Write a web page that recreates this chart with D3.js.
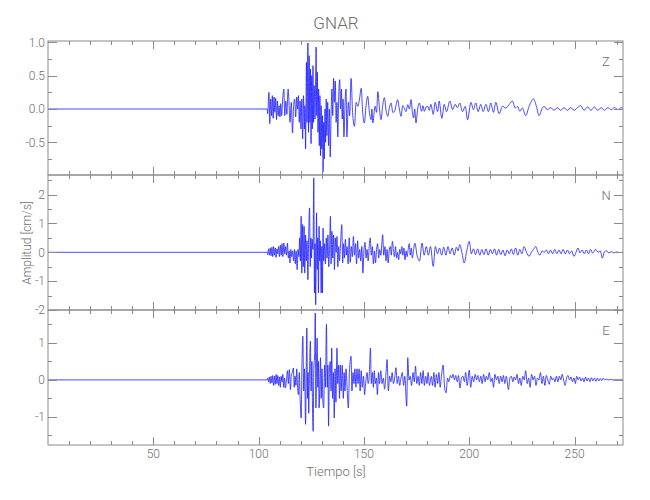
<!DOCTYPE html>
<html><head><meta charset="utf-8">
<script src="https://cdn.jsdelivr.net/npm/d3@7"></script>
<style>
body{margin:0;background:#fff}
text{font-family:Roboto,'Liberation Sans',sans-serif;fill:#6e6e6e;font-weight:300}
</style>
</head><body>
<svg id="c" width="650" height="500"></svg>
<script>
const title = "GNAR";
const xLabel = "Tiempo [s]";
const yLabel = "Amplitud [cm/s]";
const xTicks = [50, 100, 150, 200, 250];
const zTicks = [1.0, 0.5, 0.0, -0.5];
const nTicks = [2, 1, 0, -1, -2];
const eTicks = [1, 0, -1];
const channels = ["Z", "N", "E"];

// Vertical (Z) velocity trace, [time s, amplitude cm/s]
const zTrace = [[0,0],[104.0,0],[104.3,-0.07],[104.9,0.25],[105.3,-0.22],[105.7,0.15],[106.1,-0.1],[106.5,0.2],[106.9,-0.14],[107.3,0.18],[107.7,-0.05],[108.1,0.16],[108.5,-0.16],[108.9,0.12],[109.3,-0.1],[109.7,0.05],[110.1,-0.12],[110.5,0.08],[110.9,-0.1],[111.5,0.18],[112.0,0.3],[112.4,-0.1],[112.9,0.12],[113.4,-0.08],[114.0,0.3],[114.5,0.05],[114.9,-0.2],[115.5,0.1],[116.1,-0.36],[116.6,0.05],[117.1,0.15],[117.6,-0.12],[118.1,0.18],[118.5,0.0],[118.9,0.2],[119.3,-0.2],[119.7,0.12],[120.1,-0.3],[120.5,0.15],[120.9,-0.45],[121.3,0.2],[121.7,-0.3],[122.0,0.05],[122.3,-0.6],[122.7,0.7],[123.0,-0.2],[123.4,0.99],[123.7,-0.35],[124.0,0.8],[124.3,-0.2],[124.6,0.6],[124.9,-0.52],[125.2,0.5],[125.5,-0.3],[125.8,0.65],[126.1,-0.2],[126.4,0.35],[126.8,-0.15],[127.3,0.93],[127.6,-0.1],[127.9,0.55],[128.2,-0.35],[128.5,0.3],[128.8,-0.55],[129.1,0.2],[129.4,-0.7],[129.7,0.05],[130.0,-0.6],[130.3,-0.1],[130.6,-0.94],[130.9,-0.2],[131.2,-0.75],[131.5,0.0],[131.8,-0.5],[132.1,0.15],[132.4,-0.4],[132.8,0.1],[133.2,-0.55],[133.6,0.0],[134.0,-0.72],[134.4,-0.1],[134.8,0.3],[135.2,-0.1],[135.6,0.46],[136.0,0.1],[136.4,0.42],[136.8,-0.2],[137.2,0.1],[137.6,-0.42],[138.0,0.15],[138.5,0.44],[138.9,0.0],[139.3,0.3],[139.7,-0.15],[140.1,0.15],[140.5,-0.42],[141.0,0.05],[141.5,0.3],[141.9,-0.42],[142.6,0.1],[143.2,-0.1],[143.9,0.46],[144.6,-0.05],[145.5,-0.26],[146.3,0.1],[147.1,0.04],[147.9,0.15],[148.7,0.31],[149.4,-0.05],[150.2,-0.21],[151.0,0.05],[151.8,0.19],[152.6,-0.05],[153.4,-0.16],[153.8,0.0],[154.2,-0.21],[155.3,0.04],[156.0,-0.05],[156.6,0.26],[157.4,0.0],[158.1,-0.16],[158.9,0.05],[159.7,0.17],[160.5,-0.02],[161.3,-0.11],[162.1,0.02],[162.9,0.09],[163.7,-0.05],[164.5,-0.04],[165.2,0.05],[166.0,0.14],[166.8,0.0],[167.6,-0.11],[168.4,0.05],[169.2,0.01],[170.0,-0.04],[170.8,0.065],[171.6,0.0],[172.4,0.14],[173.0,-0.05],[173.6,-0.135],[174.1,0.0],[174.7,-0.21],[175.5,0.0],[176.3,0.09],[177.4,-0.035],[178.0,0.05],[178.7,-0.035],[179.5,0.03],[180.3,0.04],[181.0,-0.02],[181.8,0.07],[182.9,-0.08],[183.8,0.1],[185.0,-0.04],[185.7,0.12],[187.0,-0.14],[188.1,0.07],[189.2,-0.04],[190.8,0.12],[192.1,-0.01],[193.3,0.07],[194.4,0.02],[195.5,0.09],[196.8,-0.04],[198.1,0.04],[199.2,-0.16],[200.8,0.1],[202.0,-0.01],[203.1,0.09],[204.2,-0.04],[205.5,0.07],[206.6,-0.04],[207.9,0.07],[209.1,-0.04],[210.2,0.09],[211.5,-0.05],[212.6,0.1],[214.2,-0.07],[215.8,0.04],[217.3,0.015],[218.9,0.065],[220.5,0.12],[221.8,0.015],[222.9,0.04],[224.0,-0.035],[225.2,0.015],[226.8,-0.1],[228.4,0.04],[230.5,0.15],[231.9,0.04],[233.1,-0.1],[234.7,0.015],[235.5,0.04],[237.1,-0.01],[238.7,0.02],[240.3,-0.02],[241.8,0.02],[243.4,-0.02],[245.0,0.02],[246.6,-0.02],[248.2,0.02],[249.8,-0.02],[251.4,0.02],[252.9,0.05],[254.5,-0.02],[256.2,0.03],[257.8,-0.02],[259.4,0.03],[261.0,-0.02],[262.6,0.02],[264.2,-0.02],[265.8,0.02],[267.4,-0.01],[269.0,0.02],[270.6,-0.01],[272.2,0.02],[273.0,0.01]];

// North (N) velocity trace
const nTrace = [[0,0],[104.0,0],[104.3,-0.08],[104.7,0.12],[105.1,-0.1],[105.5,0.15],[105.9,-0.12],[106.3,0.18],[106.7,-0.15],[107.1,0.2],[107.5,-0.1],[107.9,0.15],[108.3,-0.18],[108.7,0.12],[109.1,-0.05],[109.5,0.2],[109.9,-0.15],[110.3,0.25],[110.7,-0.1],[111.1,0.3],[111.5,-0.15],[112.0,0.32],[112.4,-0.05],[112.8,0.2],[113.2,-0.1],[113.7,0.32],[114.1,-0.2],[114.5,0.05],[114.9,-0.37],[115.3,0.1],[115.7,-0.15],[116.1,0.05],[116.6,-0.3],[117.0,0.1],[117.4,-0.4],[117.8,0.05],[118.3,-0.6],[118.7,0.1],[119.1,-0.15],[119.5,0.5],[119.8,-0.3],[120.2,1.25],[120.5,-0.72],[120.9,0.96],[121.2,-0.5],[121.6,0.9],[121.9,-0.72],[122.3,0.6],[122.6,-0.3],[123.0,0.4],[123.4,-0.95],[123.8,0.7],[124.2,1.54],[124.5,-0.5],[124.8,0.5],[125.1,-0.2],[125.4,0.45],[125.8,0.1],[126.2,2.58],[126.5,-1.41],[126.8,0.3],[127.1,-1.82],[127.5,1.37],[127.8,-0.6],[128.1,0.5],[128.4,-1.41],[128.7,0.9],[129.0,-0.3],[129.3,0.4],[129.7,-1.41],[130.0,0.2],[130.3,-1.41],[130.6,0.84],[130.9,-0.3],[131.3,0.3],[131.7,-0.4],[132.1,0.5],[132.5,-0.2],[132.9,0.6],[133.3,-0.5],[133.7,0.2],[134.1,1.25],[134.4,-0.4],[134.8,0.73],[135.2,-0.2],[135.6,0.6],[136.0,-0.6],[136.4,0.5],[136.8,0.0],[137.2,0.55],[137.6,-0.5],[138.0,0.2],[138.4,-0.3],[138.9,0.3],[139.5,0.96],[139.9,-0.37],[140.3,0.3],[140.7,-0.2],[141.2,0.45],[141.6,-0.1],[142.0,0.2],[142.5,-0.4],[143.0,0.5],[143.5,-0.35],[144.0,0.2],[144.5,-0.15],[145.0,0.55],[145.5,-0.1],[146.0,0.3],[146.5,-0.4],[147.0,0.4],[147.5,-0.2],[148.0,0.1],[148.5,-0.3],[149.0,0.2],[149.5,-0.72],[150.0,0.05],[150.5,0.35],[151.0,-0.2],[151.5,0.1],[152.0,-0.3],[152.5,0.2],[153.0,0.5],[153.5,-0.1],[154.0,0.2],[154.5,-0.4],[155.0,0.05],[155.5,-0.37],[156.0,0.1],[156.5,0.3],[157.0,-0.2],[157.5,0.1],[158.0,-0.1],[158.9,0.61],[159.4,-0.1],[160.0,0.2],[160.5,-0.3],[161.0,0.1],[161.5,-0.37],[162.0,0.05],[162.5,0.2],[163.0,-0.1],[163.5,0.38],[164.0,0.1],[164.5,-0.15],[165.0,0.2],[165.5,-0.2],[166.0,0.0],[166.5,-0.26],[167.0,0.1],[167.5,-0.05],[168.0,0.2],[168.5,-0.1],[169.0,0.15],[169.5,-0.26],[170.0,0.05],[170.5,-0.15],[171.0,0.1],[171.5,0.3],[172.0,-0.1],[172.5,0.15],[173.0,-0.2],[173.5,0.05],[174.2,0.32],[175.2,-0.1],[176.4,-0.3],[177.6,0.32],[178.6,-0.1],[179.6,0.2],[180.6,-0.1],[181.6,0.2],[182.9,-0.49],[183.9,0.2],[184.9,-0.05],[185.9,0.15],[186.9,-0.1],[187.9,0.18],[188.9,-0.1],[189.9,0.2],[190.9,-0.05],[191.9,0.15],[192.9,-0.1],[193.9,0.18],[194.7,0.05],[195.5,0.27],[196.5,0.0],[197.6,-0.37],[198.8,0.05],[200.0,0.38],[201.0,-0.05],[202.0,0.12],[203.0,-0.08],[204.0,0.12],[205.0,-0.1],[206.0,0.1],[207.0,-0.08],[208.0,0.12],[209.0,-0.1],[210.0,0.1],[211.0,-0.05],[212.0,0.12],[213.0,-0.1],[214.0,0.1],[215.0,-0.08],[216.0,0.08],[217.0,-0.12],[218.0,0.08],[219.0,-0.05],[220.0,0.12],[221.0,-0.08],[222.0,0.15],[223.0,-0.1],[224.0,0.1],[225.0,-0.05],[226.0,0.2],[227.2,0.0],[228.4,-0.14],[229.5,0.0],[230.5,0.1],[231.6,0.2],[232.6,0.0],[233.6,-0.1],[234.6,0.05],[235.6,0.0],[236.6,0.08],[237.6,-0.05],[238.6,0.08],[239.6,-0.05],[240.6,0.1],[241.6,-0.05],[242.6,0.08],[243.6,-0.05],[244.6,0.1],[245.6,-0.05],[246.6,0.08],[247.6,-0.05],[248.6,0.05],[249.7,-0.14],[250.7,0.0],[251.6,0.15],[252.6,-0.02],[253.6,0.08],[254.6,-0.05],[255.6,0.08],[256.6,-0.05],[257.6,0.1],[258.6,-0.03],[260.0,0.1],[261.2,0.0],[262.2,0.05],[263.2,-0.2],[264.2,0.02],[265.2,0.05],[266.2,-0.02],[267.4,0.02],[268.6,-0.02],[270.0,0.01],[271.5,-0.01],[273.0,0.0]];

// East (E) velocity trace
const eTrace = [[0,0],[104.0,0],[104.3,0.05],[104.7,-0.05],[105.1,0.08],[105.5,-0.1],[105.9,0.1],[106.3,-0.08],[106.7,0.12],[107.1,-0.15],[107.5,0.1],[107.9,-0.12],[108.3,0.15],[108.7,-0.1],[109.1,0.12],[109.5,-0.15],[109.9,0.08],[110.3,-0.2],[110.7,0.1],[111.1,-0.05],[111.5,0.15],[111.9,-0.2],[112.3,0.05],[112.7,-0.22],[113.2,0.0],[113.7,0.25],[114.1,-0.1],[114.6,0.28],[115.1,-0.26],[115.5,0.1],[116.0,0.2],[116.5,0.32],[116.9,-0.2],[117.3,0.1],[117.7,-0.15],[118.1,0.3],[118.5,-0.2],[118.9,-0.4],[119.3,0.2],[119.7,-0.5],[120.2,-1.03],[120.6,0.5],[121.0,1.18],[121.4,-0.3],[121.8,0.3],[122.3,-1.2],[122.6,0.2],[122.9,1.4],[123.2,-0.5],[123.5,0.2],[123.8,-0.9],[124.1,0.1],[124.6,1.05],[124.9,-0.3],[125.3,0.5],[125.6,-0.8],[125.9,-1.39],[126.2,0.3],[126.6,0.7],[126.9,1.81],[127.2,-0.76],[127.5,0.5],[127.8,1.13],[128.1,-0.2],[128.4,0.5],[128.7,-0.76],[129.0,-0.3],[129.4,0.6],[129.7,-0.5],[130.1,0.3],[130.5,-0.6],[130.9,-0.76],[131.3,0.4],[131.7,-0.2],[132.2,1.5],[132.6,-0.2],[132.9,0.4],[133.2,-1.25],[133.6,0.2],[134.0,0.5],[134.4,-0.3],[134.7,0.86],[135.1,-0.5],[135.5,0.2],[135.9,-1.03],[136.3,0.3],[136.7,-0.6],[137.2,0.86],[137.6,-0.1],[138.0,0.4],[138.4,-0.5],[138.8,0.4],[139.2,-0.3],[139.7,0.4],[140.2,-0.5],[140.6,0.2],[141.0,-0.3],[141.5,0.3],[142.0,-0.2],[142.6,-0.76],[143.1,0.2],[143.9,0.64],[144.3,-0.3],[144.8,0.2],[145.3,-0.1],[145.7,0.3],[146.2,-0.2],[146.7,0.3],[147.2,-0.1],[147.7,0.3],[148.2,-0.3],[148.7,0.25],[149.2,-0.2],[149.8,0.1],[150.3,-0.4],[150.8,-0.1],[151.5,0.2],[152.0,-0.1],[152.5,0.1],[153.1,0.86],[153.5,-0.1],[154.0,0.2],[154.5,-0.2],[154.9,0.25],[155.4,-0.1],[155.9,0.05],[156.4,-0.4],[156.9,0.2],[157.4,-0.1],[158.0,0.25],[158.6,-0.1],[159.2,0.05],[159.8,-0.25],[160.4,0.1],[161.0,0.55],[161.6,-0.3],[162.2,0.1],[162.8,-0.05],[163.4,0.2],[164.0,-0.1],[164.6,0.05],[165.2,0.33],[165.8,-0.1],[166.4,0.1],[167.0,-0.15],[167.6,0.05],[168.2,0.2],[168.8,-0.15],[169.4,0.1],[170.3,-0.71],[170.8,0.6],[171.4,0.0],[172.0,0.1],[172.6,-0.15],[173.3,0.2],[173.9,-0.05],[174.5,0.37],[175.1,-0.1],[175.7,0.1],[176.3,-0.15],[176.9,0.2],[177.5,-0.1],[178.1,0.25],[178.7,-0.15],[179.3,0.1],[179.9,-0.1],[180.5,0.2],[181.1,-0.15],[182.0,0.1],[182.6,-0.15],[183.2,0.2],[183.8,-0.2],[184.4,0.15],[185.0,-0.1],[185.6,0.2],[186.2,-0.2],[186.8,0.1],[187.6,0.4],[188.3,-0.2],[189.0,-0.35],[189.7,0.05],[190.3,-0.05],[191.0,0.12],[191.7,0.05],[192.3,0.15],[193.0,0.0],[193.6,0.12],[194.3,-0.05],[194.9,0.12],[195.6,-0.22],[196.3,0.05],[197.0,0.1],[197.7,-0.05],[198.3,0.2],[199.0,-0.15],[200.0,0.26],[200.7,-0.2],[201.4,0.1],[202.1,-0.05],[202.8,0.15],[203.5,0.0],[204.1,0.12],[204.8,-0.05],[205.5,0.1],[206.1,-0.1],[206.8,0.15],[207.5,-0.05],[208.1,0.1],[208.8,0.0],[209.5,0.2],[210.2,-0.05],[210.9,0.05],[211.5,-0.2],[212.2,0.15],[212.9,0.0],[213.6,0.1],[214.2,-0.1],[214.9,0.1],[215.6,-0.05],[216.2,0.12],[216.9,-0.1],[217.6,0.1],[218.6,-0.26],[219.3,0.05],[220.0,0.1],[220.7,-0.05],[221.3,0.08],[222.0,0.0],[222.7,0.15],[223.4,-0.1],[224.0,0.05],[224.7,-0.15],[225.4,0.1],[226.1,0.0],[226.8,0.25],[227.5,-0.1],[228.2,0.05],[228.9,-0.2],[229.6,0.15],[230.3,0.0],[231.0,0.1],[231.7,-0.15],[232.4,0.05],[233.1,0.0],[233.8,0.2],[234.5,-0.1],[235.2,0.1],[235.9,-0.15],[236.6,0.12],[237.3,0.0],[238.0,-0.12],[238.7,0.1],[239.4,0.0],[240.0,0.05],[240.7,-0.05],[241.4,0.1],[242.1,-0.05],[242.8,0.1],[243.5,0.0],[244.1,0.15],[244.8,0.0],[245.5,-0.15],[246.2,0.05],[246.9,0.12],[247.6,0.0],[248.3,0.08],[249.0,-0.05],[249.7,0.05],[250.4,-0.1],[251.0,0.1],[251.7,0.0],[252.4,0.08],[253.1,-0.03],[253.8,0.05],[254.5,-0.05],[255.2,0.08],[255.9,-0.03],[256.6,0.05],[257.3,-0.05],[258.0,0.06],[258.7,-0.03],[259.4,0.05],[260.1,-0.04],[260.8,0.05],[261.5,-0.03],[262.2,0.04],[262.9,-0.02],[263.6,0.05],[264.3,0.0],[265.0,0.02],[266.0,0.0],[267.0,0.01],[268.0,0.0],[273.0,0.0]];

const svg = d3.select("#c");
const L = 48, R = 623;
const axisCol = "#8a8a8a";
const traceCol = "#1a1aff";
const x = d3.scaleLinear().domain([0, 273]).range([L, R]);

const panels = [
  {name: channels[0], trace: zTrace, dom: [-0.99, 1.02], top: 41, bot: 175, ticks: zTicks, minor: 0.25, fmt: d3.format(".1f")},
  {name: channels[1], trace: nTrace, dom: [-2.0, 2.68], top: 175, bot: 310, ticks: nTicks, minor: 0.5, fmt: d3.format("d")},
  {name: channels[2], trace: eTrace, dom: [-1.76, 1.89], top: 310, bot: 445, ticks: eTicks, minor: 0.5, fmt: d3.format("d")}
];
const minus = s => s.replace("\u2212", "-");

panels.forEach((p, i) => {
  const y = d3.scaleLinear().domain(p.dom).range([p.bot, p.top]);
  const g = svg.append("g");
  g.append("path")
    .datum(p.trace)
    .attr("fill", "none")
    .attr("stroke", traceCol)
    .attr("stroke-width", 0.8)
    .attr("stroke-linejoin", "round")
    .attr("d", d3.line().curve(d3.curveMonotoneX).x(d => x(d[0])).y(d => y(d[1])));
  g.append("rect").attr("x", L).attr("y", p.top).attr("width", R - L).attr("height", p.bot - p.top)
    .attr("fill", "none").attr("stroke", axisCol).attr("stroke-width", 1);
  d3.range(10, 273, 10).forEach(t => {
    const len = (t % 50 === 0) ? 8 : 4;
    const xx = Math.round(x(t)) + 0.5;
    g.append("line").attr("x1", xx).attr("x2", xx).attr("y1", p.top).attr("y2", p.top + len).attr("stroke", axisCol);
    g.append("line").attr("x1", xx).attr("x2", xx).attr("y1", p.bot).attr("y2", p.bot - len).attr("stroke", axisCol);
  });
  const start = Math.ceil((p.dom[0] - 1e-9) / p.minor) * p.minor;
  for (let v = start; v <= p.dom[1] + 1e-9; v += p.minor) {
    const vv = Math.round(v * 1000) / 1000;
    const isMajor = p.ticks.some(t => Math.abs(t - vv) < 1e-6);
    const len = isMajor ? 9 : 4;
    const yy = Math.round(y(vv)) + 0.5;
    g.append("line").attr("x1", L).attr("x2", L + len).attr("y1", yy).attr("y2", yy).attr("stroke", axisCol);
    g.append("line").attr("x1", R).attr("x2", R - len).attr("y1", yy).attr("y2", yy).attr("stroke", axisCol);
  }
  p.ticks.forEach(t => {
    g.append("text").attr("x", 45).attr("y", y(t)).attr("dy", "0.36em")
      .attr("text-anchor", "end").attr("font-size", 12)
      .text(minus(p.fmt(t)));
  });
  g.append("text").attr("x", 606).attr("y", p.top + 25).attr("text-anchor", "middle")
    .attr("font-size", 13).text(p.name);
});

xTicks.forEach(t => {
  svg.append("text").attr("x", x(t)).attr("y", 458).attr("text-anchor", "middle")
    .attr("font-size", 12).text(t);
});

svg.append("text").attr("x", 336).attr("y", 29).attr("text-anchor", "middle")
  .attr("font-size", 17).text(title);
svg.append("text").attr("x", 336).attr("y", 476).attr("text-anchor", "middle")
  .attr("font-size", 13).text(xLabel);
svg.append("text").attr("transform", "translate(31,243) rotate(-90)").attr("text-anchor", "middle")
  .attr("font-size", 12).text(yLabel);
</script>
</body></html>
